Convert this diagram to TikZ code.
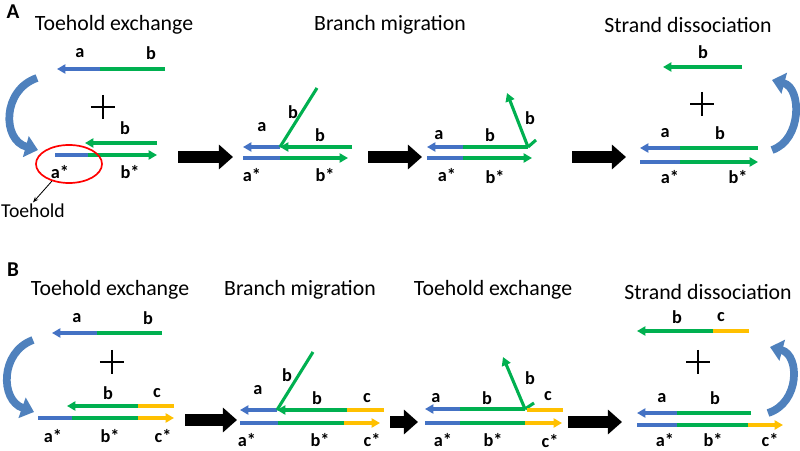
\documentclass[tikz,border=0pt]{standalone}
\usepackage{fontspec}
\setmainfont{Carlito}
\usetikzlibrary{arrows.meta,shapes.geometric}
\definecolor{dnablue}{HTML}{4472C4}
\definecolor{dnagreen}{HTML}{00B050}
\definecolor{dnayellow}{HTML}{FFC000}
\definecolor{loopblue}{HTML}{4F81BD}
\newcommand{\Lab}[3]% pos, name, text
{\node[lab] (#2) at (#1) {#3};}
\newcommand{\Strand}[4]% from, to, colour, tip
{\draw[strand,#3,#4] (#1) -- (#2);}
\newcommand{\Step}[3]% from, to, name
{\coordinate (#3s) at (#1);
  \coordinate (#3e) at (#2);
  \draw[bigarrow] (#3s) -- (#3e);}
\tikzset{
  strand/.style={line width=2.2pt},
  endtip/.style={-{Triangle[length=6pt,width=6.5pt]}},
  lab/.style={font=\bfseries\fontsize{13}{13}\selectfont,inner sep=0.3pt},
  heading/.style={font=\fontsize{15.5}{15.5}\selectfont,inner sep=1pt},
  bigarrow/.style={line width=8pt,-{Triangle[length=10pt,width=17pt]}},
  swing/.style={loopblue,line width=5.5pt,-{Triangle[length=9pt,width=15pt]}},
  plussign/.style={minimum size=0.6cm,inner sep=0pt,
    path picture={\draw[line width=1pt]
      (path picture bounding box.north) -- (path picture bounding box.south)
      (path picture bounding box.west) -- (path picture bounding box.east);}},
}

\begin{document}
\begin{tikzpicture}[x=0.025cm,y=-0.025cm]
  \useasboundingbox (0,0) rectangle (800,451);
  % panel A
  \node[font=\bfseries\fontsize{15}{15}\selectfont] (pA) at (13,12) {A};
  \node[heading] (hA1) at (114,25) {Toehold exchange};
  \node[heading] (hA2) at (390,25) {Branch migration};
  \node[heading] (hA4) at (688,25) {Strand dissociation};
  % A, step 1
  \Strand{100,69}{57,69}{dnablue}{endtip}
  \Strand{165,69}{100,69}{dnagreen}{}
  \Lab{80,53}{a1a}{a}
  \Lab{151,53}{a1b}{b}
  \node[plussign] (a1p) at (103,107) {};
  \Strand{157,143}{85,143}{dnagreen}{endtip}
  \Lab{125,128}{a1c}{b}
  \Strand{55,155}{88,155}{dnablue}{}
  \Strand{88,155}{157,155}{dnagreen}{endtip}
  \Lab{60,172}{a1d}{a*}
  \Lab{130,172}{a1e}{b*}
  \node[draw=red,line width=1.2pt,ellipse,minimum width=1.65cm,minimum height=0.95cm] (thA) at (69,164) {};
  \node[heading,font=\fontsize{14}{14}\selectfont] (tl) at (33,211) {Toehold};
  \draw[-{Stealth[length=4pt]},line width=0.6pt] (thA.225) -- (tl.north);
  \coordinate (swA1s) at (37,78);
  \coordinate (swA1e) at (38,150);
  \draw[swing] (swA1s) .. controls (2,90) and (2,140) .. (swA1e);
  \Step{178,157}{233,157}{gA1}
  % A, step 2
  \Strand{280,147}{243,147}{dnablue}{endtip}
  \Strand{352,147}{280,147}{dnagreen}{endtip}
  \Strand{280,147}{317,88}{dnagreen}{}
  \Strand{243,158}{280,158}{dnablue}{}
  \Strand{280,158}{348,158}{dnagreen}{endtip}
  \Lab{293,112}{a2a}{b}
  \Lab{262,127}{a2b}{a}
  \Lab{320,135}{a2c}{b}
  \Lab{252,175}{a2d}{a*}
  \Lab{325,175}{a2e}{b*}
  \Step{368,157}{422,157}{gA2}
  % A, step 3
  \Strand{463,147}{427,147}{dnablue}{endtip}
  \Strand{528,147}{463,147}{dnagreen}{}
  \Strand{528,147}{507,93}{dnagreen}{endtip}
  \Strand{528,147}{536,140}{dnagreen}{}
  \Strand{427,158}{463,158}{dnablue}{}
  \Strand{463,158}{532,158}{dnagreen}{endtip}
  \Lab{439,135}{a3a}{a}
  \Lab{490,135}{a3b}{b}
  \Lab{530,118}{a3c}{b}
  \Lab{447,175}{a3d}{a*}
  \Lab{495,177}{a3e}{b*}
  \Step{572,157}{626,157}{gA3}
  % A, step 4
  \Strand{742,67}{663,67}{dnagreen}{endtip}
  \Lab{703,52}{a4a}{b}
  \node[plussign] (a4p) at (702,104) {};
  \Strand{680,148}{640,148}{dnablue}{endtip}
  \Strand{758,148}{680,148}{dnagreen}{}
  \Lab{665,133}{a4b}{a}
  \Lab{720,133}{a4c}{b}
  \Strand{640,162}{680,162}{dnablue}{}
  \Strand{680,162}{758,162}{dnagreen}{endtip}
  \Lab{670,177}{a4d}{a*}
  \Lab{738,177}{a4e}{b*}
  \coordinate (swA4s) at (772,150);
  \coordinate (swA4e) at (772,80);
  \draw[swing] (swA4s) .. controls (802,140) and (802,88) .. (swA4e);
  % panel B
  \node[font=\bfseries\fontsize{15}{15}\selectfont] (pB) at (13,270) {B};
  \node[heading] (hB1) at (110,290) {Toehold exchange};
  \node[heading] (hB2) at (300,290) {Branch migration};
  \node[heading] (hB3) at (493,290) {Toehold exchange};
  \node[heading] (hB4) at (708,292) {Strand dissociation};
  % B, step 1
  \Strand{97,333}{52,333}{dnablue}{endtip}
  \Strand{162,333}{97,333}{dnagreen}{}
  \Lab{77,318}{b1a}{a}
  \Lab{148,318}{b1b}{b}
  \node[plussign] (b1p) at (112,362) {};
  \Strand{138,406}{67,406}{dnagreen}{endtip}
  \Strand{174,406}{138,406}{dnayellow}{}
  \Lab{108,393}{b1c}{b}
  \Lab{157,393}{b1d}{c}
  \Strand{38,418}{72,418}{dnablue}{}
  \Strand{72,418}{138,418}{dnagreen}{}
  \Strand{138,418}{174,418}{dnayellow}{endtip}
  \Lab{53,436}{b1e}{a*}
  \Lab{110,436}{b1f}{b*}
  \Lab{163,436}{b1g}{c*}
  \coordinate (swB1s) at (33,340);
  \coordinate (swB1e) at (34,412);
  \draw[swing] (swB1s) .. controls (0,352) and (0,400) .. (swB1e);
  \Step{185,420}{237,420}{gB1}
  % B, step 2
  \Strand{277,410}{240,410}{dnablue}{endtip}
  \Strand{347,410}{277,410}{dnagreen}{endtip}
  \Strand{384,410}{347,410}{dnayellow}{}
  \Strand{277,410}{313,352}{dnagreen}{}
  \Lab{287,375}{b2a}{b}
  \Lab{258,390}{b2b}{a}
  \Lab{317,398}{b2c}{b}
  \Lab{367,398}{b2d}{c}
  \Strand{240,423}{278,423}{dnablue}{}
  \Strand{278,423}{344,423}{dnagreen}{}
  \Strand{344,423}{380,423}{dnayellow}{endtip}
  \Lab{247,440}{b2e}{a*}
  \Lab{320,440}{b2f}{b*}
  \Lab{372,440}{b2g}{c*}
  \Step{390,422}{418,422}{gB2}
  % B, step 3
  \Strand{460,409}{425,409}{dnablue}{endtip}
  \Strand{525,409}{460,409}{dnagreen}{}
  \Strand{525,409}{503,357}{dnagreen}{endtip}
  \Strand{525,409}{534,403}{dnagreen}{}
  \Strand{527,410}{563,410}{dnayellow}{}
  \Lab{436,398}{b3a}{a}
  \Lab{487,398}{b3b}{b}
  \Lab{530,378}{b3c}{b}
  \Lab{548,396}{b3d}{c}
  \Strand{425,423}{460,423}{dnablue}{}
  \Strand{460,423}{525,423}{dnagreen}{}
  \Strand{525,423}{562,423}{dnayellow}{endtip}
  \Lab{443,440}{b3e}{a*}
  \Lab{493,440}{b3f}{b*}
  \Lab{550,441}{b3g}{c*}
  \Step{568,422}{622,422}{gB3}
  % B, step 4
  \Strand{713,331}{637,331}{dnagreen}{endtip}
  \Strand{749,331}{713,331}{dnayellow}{}
  \Lab{677,317}{b4a}{b}
  \Lab{721,317}{b4b}{c}
  \node[plussign] (b4p) at (698,362) {};
  \Strand{677,413}{637,413}{dnablue}{endtip}
  \Strand{751,413}{677,413}{dnagreen}{}
  \Lab{662,398}{b4c}{a}
  \Lab{715,398}{b4d}{b}
  \Strand{637,425}{677,425}{dnablue}{}
  \Strand{677,425}{748,425}{dnagreen}{}
  \Strand{748,425}{783,425}{dnayellow}{endtip}
  \Lab{665,440}{b4e}{a*}
  \Lab{713,440}{b4f}{b*}
  \Lab{770,440}{b4g}{c*}
  \coordinate (swB4s) at (768,413);
  \coordinate (swB4e) at (770,347);
  \draw[swing] (swB4s) .. controls (800,403) and (800,355) .. (swB4e);
\end{tikzpicture}
\end{document}
